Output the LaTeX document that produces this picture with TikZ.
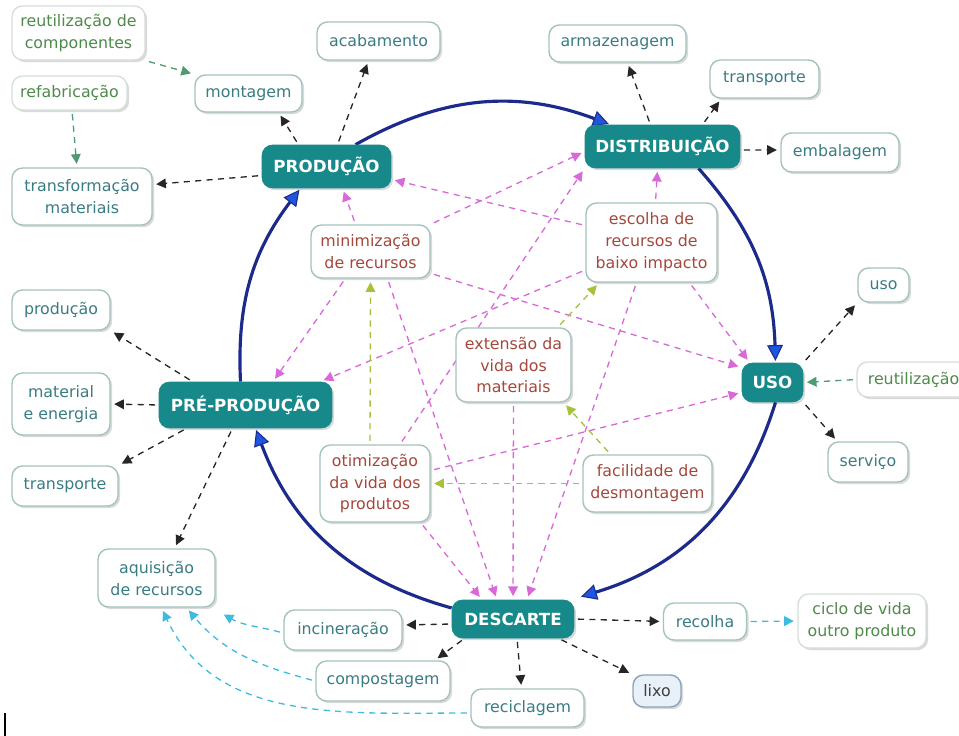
\documentclass[tikz,border=0pt]{standalone}
\usepackage{fontspec}
\setmainfont{DejaVu Sans}
\usetikzlibrary{arrows.meta,shadows}
\definecolor{tealfill}{HTML}{17898A}
\definecolor{boxline}{HTML}{A3C3BC}
\definecolor{lightline}{HTML}{D5E0DA}
\definecolor{tealtext}{HTML}{3A7C84}
\definecolor{redtext}{HTML}{A5483C}
\definecolor{greentext}{HTML}{4E8A4A}
\definecolor{pinkc}{HTML}{D968D9}
\definecolor{limec}{HTML}{A6C23C}
\definecolor{cyanc}{HTML}{3DBBE0}
\definecolor{greenarr}{HTML}{4F9A6E}
\definecolor{navyc}{HTML}{1C2A8C}
\definecolor{bluetip}{HTML}{1E56E0}
\definecolor{lixofill}{HTML}{E8F0F8}
\definecolor{lixoline}{HTML}{8CA2BA}
\pgfdeclarelayer{bg}
\pgfsetlayers{bg,main}
\begin{document}
\begin{tikzpicture}[x=0.02cm,y=0.02cm,
  shad/.style={drop shadow={shadow xshift=1.2pt,shadow yshift=-1.2pt,fill=black,opacity=0.15}},
  box/.style={shad,draw=boxline,line width=0.8pt,rounded corners=6pt,fill=white,text=tealtext,
    font=\fontsize{9}{12.5}\selectfont,align=center,inner sep=0pt},
  redbox/.style={box,text=redtext},
  greenbox/.style={box,draw=lightline,text=greentext},
  lixobox/.style={box,draw=lixoline,fill=lixofill,text=black!75},
  mainbox/.style={shad,fill=tealfill,draw=tealfill,rounded corners=6pt,text=white,
    font=\fontsize{9.5}{12}\selectfont\bfseries,inner sep=0pt},
  conn/.style={line width=0.75pt,dash pattern=on 3.5pt off 3pt,shorten >=2pt,shorten <=2pt},
  blk/.style={conn,draw=black!85,-{Triangle[length=5.5pt,width=5.5pt]}},
  pnk/.style={conn,draw=pinkc,-{Triangle[length=5.5pt,width=5.5pt]}},
  lim/.style={conn,draw=limec,-{Triangle[length=5.5pt,width=5.5pt]}},
  cyn/.style={conn,draw=cyanc,-{Triangle[length=5.5pt,width=5.5pt]}},
  grn/.style={conn,draw=greenarr,-{Triangle[length=5.5pt,width=5.5pt]}},
  cyc/.style={draw=navyc,line width=1.8pt,-{Triangle[length=9pt,width=9pt,fill=bluetip,line width=0.6pt]},shorten >=1pt}
]
\useasboundingbox (0,0) rectangle (959,-736);

% nodes
\node[greenbox,minimum width=2.66cm,minimum height=1.08cm] (reutcomp) at (78.5,-33) {reutilização de\\componentes};
\node[greenbox,minimum width=2.30cm,minimum height=0.68cm] (refab) at (69.5,-93) {refabricação};
\node[box,minimum width=2.14cm,minimum height=0.74cm] (montagem) at (248.5,-93.5) {montagem};
\node[box,minimum width=2.46cm,minimum height=0.76cm] (acab) at (378.5,-41) {acabamento};
\node[box,minimum width=2.80cm,minimum height=1.14cm] (transf) at (82,-196.5) {transformação\\materiais};
\node[mainbox,minimum width=2.58cm,minimum height=0.86cm] (prod) at (326.5,-166.5) {PRODUÇÃO};
\node[box,minimum width=2.74cm,minimum height=0.74cm] (armaz) at (617.5,-43.5) {armazenagem};
\node[box,minimum width=2.18cm,minimum height=0.76cm] (transpD) at (764.5,-79) {transporte};
\node[mainbox,minimum width=3.10cm,minimum height=0.86cm] (dist) at (662.5,-146.5) {DISTRIBUIÇÃO};
\node[box,minimum width=2.36cm,minimum height=0.78cm] (embal) at (840,-152.5) {embalagem};
\node[redbox,minimum width=2.38cm,minimum height=1.06cm] (mini) at (370.5,-251.5) {minimização\\de recursos};
\node[redbox,minimum width=2.62cm,minimum height=1.58cm] (esc) at (651.5,-242.5) {escolha de\\recursos de\\baixo impacto};
\node[box,minimum width=1.02cm,minimum height=0.68cm] (usoS) at (883.5,-285) {uso};
\node[box,minimum width=1.96cm,minimum height=0.80cm] (prodS) at (61,-310) {produção};
\node[redbox,minimum width=2.30cm,minimum height=1.48cm] (ext) at (513.5,-365) {extensão da\\vida dos\\materiais};
\node[mainbox,minimum width=1.22cm,minimum height=0.78cm] (uso) at (772.5,-382.5) {USO};
\node[greenbox,minimum width=2.26cm,minimum height=0.70cm] (reut) at (913.5,-379.5) {reutilização};
\node[box,minimum width=1.96cm,minimum height=1.24cm] (mat) at (61,-404) {material\\e energia};
\node[mainbox,minimum width=3.46cm,minimum height=0.92cm] (pre) at (245.5,-405) {PRÉ-PRODUÇÃO};
\node[redbox,minimum width=2.20cm,minimum height=1.54cm] (oti) at (375,-483.5) {otimização\\da vida dos\\produtos};
\node[redbox,minimum width=2.58cm,minimum height=1.14cm] (fac) at (647.5,-483.5) {facilidade de\\desmontagem};
\node[box,minimum width=1.60cm,minimum height=0.80cm] (serv) at (868,-462) {serviço};
\node[box,minimum width=2.12cm,minimum height=0.80cm] (transpP) at (65,-486) {transporte};
\node[box,minimum width=2.34cm,minimum height=1.16cm] (aq) at (156.5,-578) {aquisição\\de recursos};
\node[mainbox,minimum width=2.44cm,minimum height=0.76cm] (desc) at (513,-619) {DESCARTE};
\node[box,minimum width=2.36cm,minimum height=0.80cm] (inc) at (343,-630) {incineração};
\node[box,minimum width=1.66cm,minimum height=0.74cm] (recol) at (705,-621.5) {recolha};
\node[greenbox,minimum width=2.56cm,minimum height=1.08cm] (ciclo) at (862,-621) {ciclo de vida\\outro produto};
\node[box,minimum width=2.68cm,minimum height=0.80cm] (comp) at (383,-681) {compostagem};
\node[lixobox,minimum width=0.96cm,minimum height=0.64cm] (lixo) at (657,-691) {lixo};
\node[box,minimum width=2.26cm,minimum height=0.76cm] (recic) at (527.5,-708) {reciclagem};

\begin{pgfonlayer}{bg}
% black
\draw[blk] ([xshift=-0.56cm]prod.north) -- ([xshift=-0.48cm]montagem.south east);
\draw[blk] ([xshift=0.22cm]prod.north) -- ([xshift=-0.2cm]acab.south);
\draw[blk] ([yshift=-0.18cm]prod.west) -- ([yshift=0.24cm]transf.east);
\draw[blk] ([xshift=-0.24cm]dist.north) -- ([xshift=0.2cm]armaz.south);
\draw[blk] ([xshift=0.8cm]dist.north) -- ([xshift=0.24cm]transpD.south west);
\draw[blk] ([yshift=-0.07cm]dist.east) -- ([yshift=0.05cm]embal.west);
\draw[blk] (uso.north east) -- (usoS.south west);
\draw[blk] (uso.south east) -- ([xshift=0.2cm]serv.north west);
\draw[blk] ([xshift=0.68cm]pre.north west) -- (prodS.south east);
\draw[blk] (pre.west) -- (mat.east);
\draw[blk] ([xshift=0.56cm]pre.south west) -- (transpP.north east);
\draw[blk] ([xshift=-0.26cm]pre.south) -- ([xshift=0.36cm]aq.north);
\draw[blk] ([yshift=-0.1cm]desc.west) -- ([yshift=0.1cm]inc.east);
\draw[blk] ([xshift=0.26cm]desc.south west) -- ([xshift=-0.32cm]comp.north east);
\draw[blk] ([xshift=0.08cm]desc.south) -- ([xshift=-0.12cm]recic.north);
\draw[blk] ([xshift=-0.32cm]desc.south east) -- (lixo.north west);
\draw[blk] (desc.east) -- (recol.west);
% green
\draw[grn] (reutcomp.south east) -- (montagem.north west);
\draw[grn] ([xshift=0.05cm]refab.south) -- ([xshift=-0.1cm]transf.north);
\draw[grn] (reut.west) -- (uso.east);
% cyan
\draw[cyn] (recol.east) -- (ciclo.west);
\draw[cyn] ([yshift=-0.06cm]inc.west) to[out=165,in=-30] ([xshift=0.1cm,yshift=-0.1cm]aq.south east);
\draw[cyn] (comp.west) to[out=165,in=-50] ([xshift=0.6cm]aq.south);
\draw[cyn] ([yshift=-0.1cm]recic.west) to[out=180,in=-65] ([xshift=0.1cm]aq.south);
% pink
\draw[pnk] ([xshift=-0.3cm]mini.north) -- ([xshift=0.32cm]prod.south);
\draw[pnk] (mini.north east) -- ([yshift=-0.1cm]dist.west);
\draw[pnk] ([xshift=0.7cm]mini.south west) -- ([xshift=0.55cm]pre.north);
\draw[pnk] (mini.-20) -- ([yshift=0.3cm]uso.west);
\draw[pnk] ([xshift=0.34cm]mini.south) -- ([xshift=-0.32cm]desc.north);
\draw[pnk] ([xshift=0.08cm]esc.north) -- ([xshift=-0.1cm]dist.south);
\draw[pnk] ([yshift=0.34cm]esc.west) -- ([yshift=-0.26cm]prod.east);
\draw[pnk] ([yshift=-0.55cm]esc.west) -- ([xshift=-0.24cm]pre.north east);
\draw[pnk] ([xshift=0.76cm]esc.south) -- ([xshift=0.16cm]uso.north west);
\draw[pnk] ([xshift=-0.3cm]esc.south) -- ([xshift=0.28cm]desc.north);
\draw[pnk] ([xshift=0.5cm]oti.north) -- (dist.south west);
\draw[pnk] ([yshift=0.26cm]oti.east) -- ([yshift=-0.2cm]uso.west);
\draw[pnk] ([xshift=-0.2cm]oti.south east) -- ([xshift=-0.62cm]desc.north);
\draw[pnk] (ext.south) -- (desc.north);
% lime
\draw[lim] ([xshift=-0.1cm]oti.north) -- (mini.south);
\draw[lim] (fac.west) -- (oti.east);
\draw[lim] ([xshift=-0.74cm]fac.north) -- ([xshift=-0.16cm]ext.south east);
\draw[lim] ([xshift=-0.28cm]ext.north east) -- ([xshift=0.28cm]esc.south west);
% life cycle
\draw[cyc] ([xshift=-0.1cm]pre.north) to[bend left=20] ([xshift=-0.52cm]prod.south);
\draw[cyc] ([xshift=0.58cm]prod.north) to[bend left=25] ([xshift=-1.04cm]dist.north);
\draw[cyc] ([xshift=0.72cm]dist.south) to[bend left=20] ([xshift=0.06cm]uso.north);
\draw[cyc] ([xshift=0.06cm]uso.south) to[bend left=28] ([xshift=0.1cm,yshift=0.05cm]desc.north east);
\draw[cyc] ([yshift=0.22cm]desc.west) to[bend left=27] ([xshift=0.2cm]pre.south);
\end{pgfonlayer}

\draw[line width=0.6pt] (5,-713) -- (5,-736);
\end{tikzpicture}
\end{document}
